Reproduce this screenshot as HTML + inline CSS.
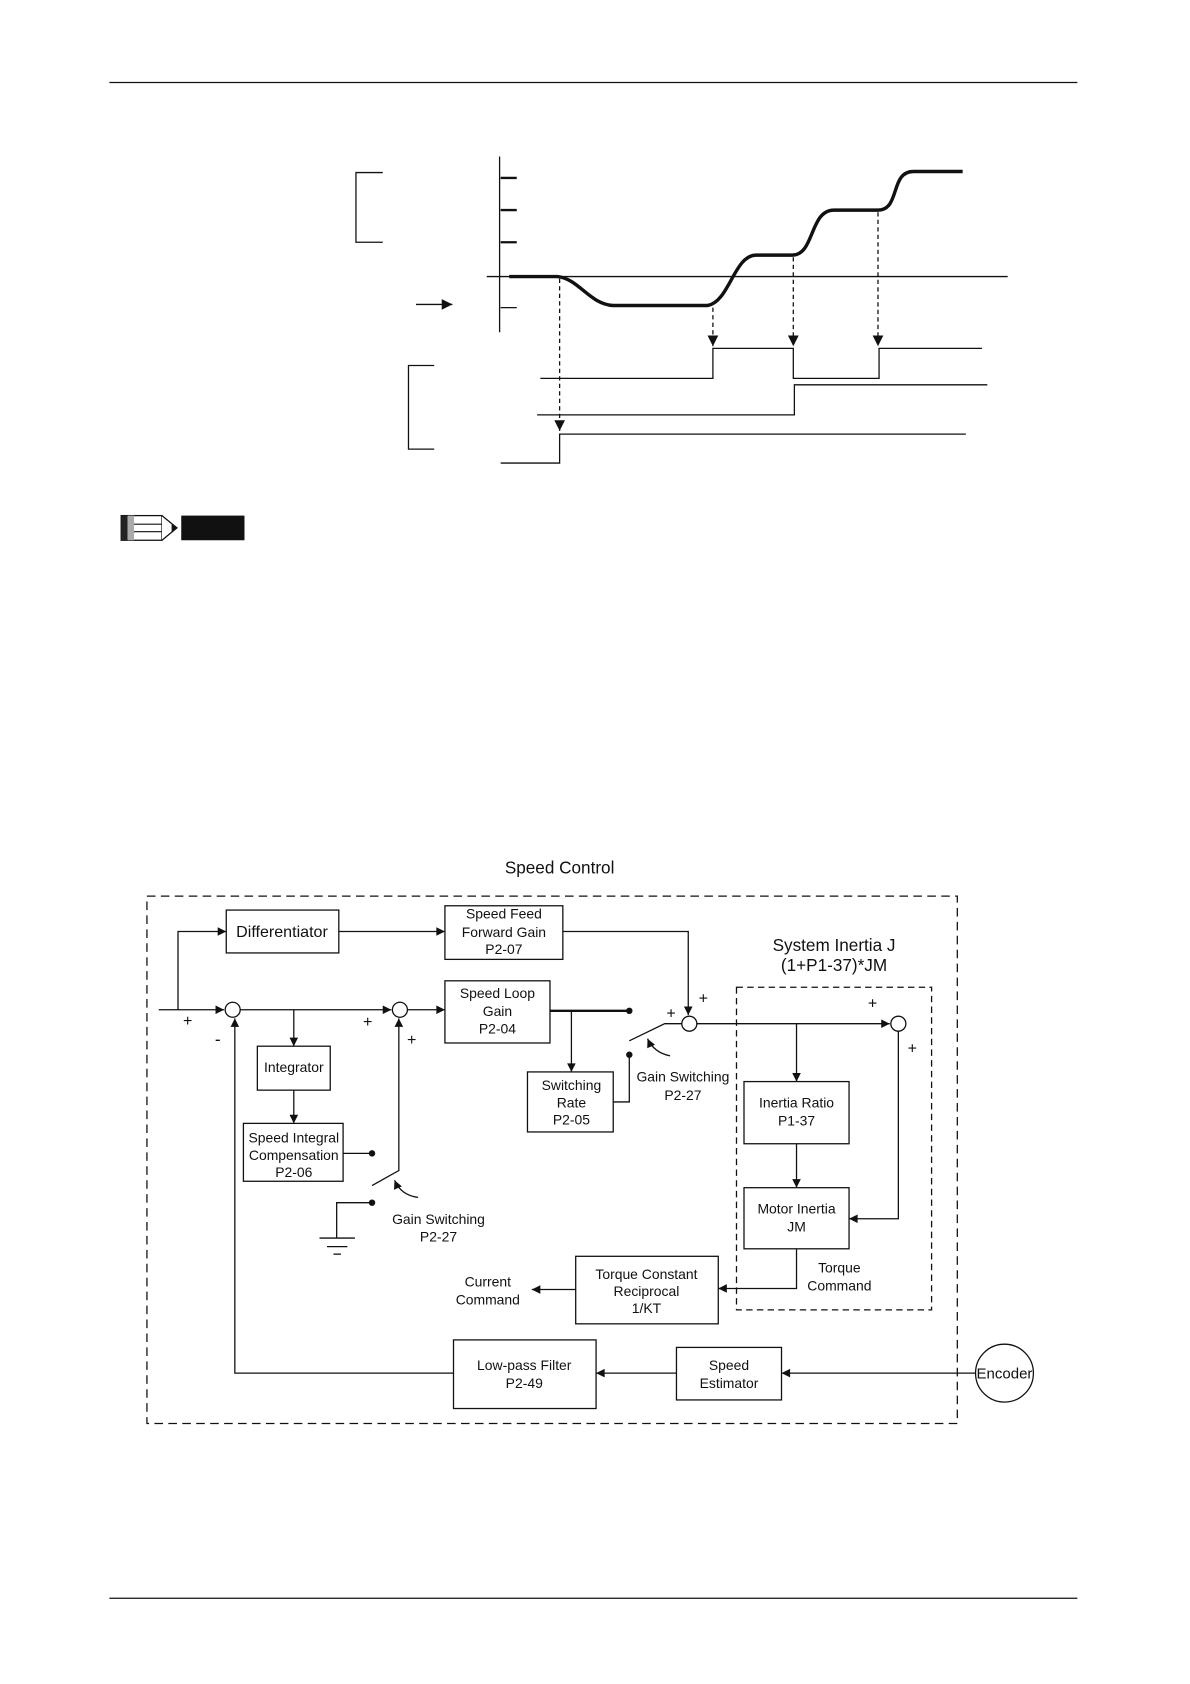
<!DOCTYPE html>
<html><head><meta charset="utf-8"><style>
html,body{margin:0;padding:0;background:#fff}
svg{display:block}
text{font-family:"Liberation Sans",Arial,sans-serif;fill:#111}
</style></head><body>
<svg width="1190" height="1684" viewBox="0 0 1110 1571" xmlns="http://www.w3.org/2000/svg">
<defs>
<marker id="a" viewBox="0 0 10 10" refX="10" refY="5" markerWidth="10" markerHeight="8" orient="auto-start-reverse" markerUnits="userSpaceOnUse"><path d="M0,0 L10,5 L0,10 z" fill="#111"/></marker>
<marker id="b" viewBox="0 0 10 10" refX="10" refY="5" markerWidth="10" markerHeight="10" orient="auto" markerUnits="userSpaceOnUse"><path d="M0,0 L10,5 L0,10 z" fill="#111"/></marker>
</defs>
<g stroke="#111" fill="none" stroke-width="1.2">
<line x1="102" y1="77" x2="1005" y2="77"/>
<line x1="102" y1="1491" x2="1005" y2="1491"/>
<line x1="466" y1="146" x2="466" y2="310"/>
<g stroke-width="2.2"><line x1="467" y1="166" x2="482" y2="166"/><line x1="467" y1="196" x2="482" y2="196"/><line x1="467" y1="226" x2="482" y2="226"/></g>
<line x1="467" y1="287" x2="482" y2="287"/>
<line x1="454" y1="258" x2="940" y2="258"/>
<polyline points="357,161 332,161 332,226 357,226"/>
<polyline points="405,341 381,341 381,419 405,419"/>
<line x1="388" y1="284" x2="422" y2="284" marker-end="url(#b)"/>
<path d="M475,258 L520,258 C540,260 550,284 572,285 L660,285 C680,282 685,238 705,238 L739,238 C760,238 755,196 778,196 L819,196 C840,196 830,160 852,160 L898,160" stroke-width="3.2"/>
<polyline points="504,353 665,353 665,325 740,325 740,353 820,353 820,325 916,325"/>
<polyline points="501,387 741,387 741,359 921,359"/>
<polyline points="467,432 522,432 522,405 901,405"/>
<g stroke-dasharray="4,3"><line x1="522" y1="260" x2="522" y2="402" marker-end="url(#b)"/><line x1="665" y1="287" x2="665" y2="323" marker-end="url(#b)"/><line x1="740" y1="240" x2="740" y2="323" marker-end="url(#b)"/><line x1="819" y1="198" x2="819" y2="323" marker-end="url(#b)"/></g>
</g>
<rect x="113" y="481" width="38" height="23" fill="#fff" stroke="#111" stroke-width="1.2"/>
<rect x="113" y="481" width="6" height="23" fill="#222"/><rect x="119" y="481" width="6" height="23" fill="#aaa"/>
<line x1="125" y1="489" x2="151" y2="489" stroke="#111"/><line x1="125" y1="496" x2="151" y2="496" stroke="#111"/>
<path d="M151,481 L165,492.5 L151,504" fill="#fff" stroke="#111" stroke-width="1.2"/>
<path d="M160,489 L165,492.5 L160,496z" fill="#111"/>
<rect x="169" y="481" width="59" height="23" fill="#111"/>
<text x="522" y="815" font-size="16" text-anchor="middle">Speed Control</text>
<g stroke="#111" fill="none" stroke-width="1.2">
<rect x="137" y="836" width="756" height="492" stroke-dasharray="8,5"/>
<rect x="687" y="921" width="182" height="301" stroke-dasharray="6,4"/>
<rect x="211" y="849" width="105" height="40"/>
<rect x="415" y="845" width="110" height="50"/>
<rect x="415" y="915" width="98" height="58"/>
<rect x="240" y="976" width="68" height="41"/>
<rect x="227" y="1048" width="93" height="54"/>
<rect x="492" y="1000" width="80" height="56"/>
<rect x="694" y="1009" width="98" height="58"/>
<rect x="694" y="1108" width="98" height="57"/>
<rect x="537" y="1172" width="133" height="63"/>
<rect x="423" y="1250" width="133" height="64"/>
<rect x="631" y="1257" width="98" height="49"/>
<circle cx="937" cy="1281" r="27"/>
<circle cx="217" cy="942" r="7"/><circle cx="373" cy="942" r="7"/><circle cx="643" cy="955" r="7"/><circle cx="838" cy="955" r="7"/>
<line x1="148" y1="942" x2="209" y2="942" marker-end="url(#a)"/>
<polyline points="166,942 166,869 211,869" marker-end="url(#a)"/>
<line x1="316" y1="869" x2="415" y2="869" marker-end="url(#a)"/>
<polyline points="525,869 642,869 642,947" marker-end="url(#a)"/>
<line x1="224" y1="942" x2="365" y2="942" marker-end="url(#a)"/>
<line x1="274" y1="942" x2="274" y2="976" marker-end="url(#a)"/>
<line x1="274" y1="1017" x2="274" y2="1048" marker-end="url(#a)"/>
<line x1="320" y1="1076" x2="347" y2="1076"/>
<line x1="380" y1="942" x2="415" y2="942" marker-end="url(#a)"/>
<line x1="513" y1="943" x2="587" y2="943" stroke-width="2.2"/>
<line x1="533" y1="943" x2="533" y2="1000" marker-end="url(#a)"/>
<polyline points="572,1028 587,1028 587,984"/>
<polyline points="587,971 620,955 636,955"/>
<path d="M625,985 Q610,982 604,969" marker-end="url(#a)"/>
<polyline points="347,1106 372,1092 372,950" marker-end="url(#a)"/>
<path d="M390,1117 Q374,1115 368,1101" marker-end="url(#a)"/>
<polyline points="347,1122 314,1122 314,1155"/>
<line x1="298" y1="1155" x2="331" y2="1155"/><line x1="305" y1="1163" x2="324" y2="1163"/><line x1="311" y1="1170" x2="318" y2="1170"/>
<line x1="650" y1="955" x2="830" y2="955" marker-end="url(#a)"/>
<line x1="743" y1="955" x2="743" y2="1009" marker-end="url(#a)"/>
<line x1="743" y1="1067" x2="743" y2="1108" marker-end="url(#a)"/>
<polyline points="838,962 838,1137 792,1137" marker-end="url(#a)"/>
<polyline points="743,1165 743,1202 670,1202" marker-end="url(#a)"/>
<line x1="537" y1="1203" x2="496" y2="1203" marker-end="url(#a)"/>
<line x1="910" y1="1281" x2="729" y2="1281" marker-end="url(#a)"/>
<line x1="631" y1="1281" x2="556" y2="1281" marker-end="url(#a)"/>
<polyline points="423,1281 219,1281 219,950" marker-end="url(#a)"/>
</g>
<g fill="#111"><circle cx="347" cy="1076" r="3"/><circle cx="587" cy="943" r="3"/><circle cx="587" cy="984" r="3"/><circle cx="347" cy="1122" r="3"/></g>
<g font-size="13" text-anchor="middle">
<text x="263" y="874" font-size="15">Differentiator</text>
<text x="470" y="857">Speed Feed</text><text x="470" y="874">Forward Gain</text><text x="470" y="890">P2-07</text>
<text x="464" y="931">Speed Loop</text><text x="464" y="948">Gain</text><text x="464" y="964">P2-04</text>
<text x="274" y="1000">Integrator</text>
<text x="274" y="1066">Speed Integral</text><text x="274" y="1082">Compensation</text><text x="274" y="1098">P2-06</text>
<text x="533" y="1017">Switching</text><text x="533" y="1033">Rate</text><text x="533" y="1049">P2-05</text>
<text x="637" y="1009">Gain Switching</text><text x="637" y="1026">P2-27</text>
<text x="409" y="1142">Gain Switching</text><text x="409" y="1158">P2-27</text>
<text x="778" y="887" font-size="16">System Inertia J</text><text x="778" y="906" font-size="16">(1+P1-37)*JM</text>
<text x="743" y="1033">Inertia Ratio</text><text x="743" y="1050">P1-37</text>
<text x="743" y="1132">Motor Inertia</text><text x="743" y="1149">JM</text>
<text x="783" y="1187">Torque</text><text x="783" y="1204">Command</text>
<text x="603" y="1193">Torque Constant</text><text x="603" y="1209">Reciprocal</text><text x="603" y="1225">1/KT</text>
<text x="455" y="1200">Current</text><text x="455" y="1217">Command</text>
<text x="489" y="1278">Low-pass Filter</text><text x="489" y="1295">P2-49</text>
<text x="680" y="1278">Speed</text><text x="680" y="1295">Estimator</text>
<text x="937" y="1286" font-size="14">Encoder</text>
<text x="175" y="957" font-size="15">+</text><text x="343" y="958" font-size="15">+</text><text x="384" y="975" font-size="15">+</text><text x="203" y="975" font-size="16">-</text>
<text x="626" y="950" font-size="15">+</text><text x="656" y="936" font-size="15">+</text><text x="814" y="941" font-size="15">+</text><text x="851" y="983" font-size="15">+</text>
</g>
</svg>
</body></html>
